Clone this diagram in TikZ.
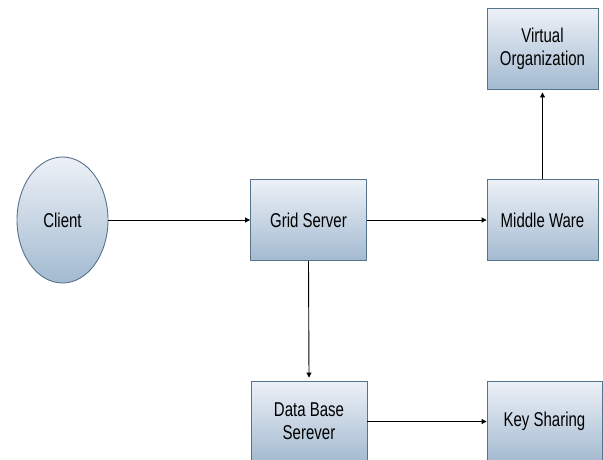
\documentclass[tikz,border=0pt]{standalone}
\usepackage{fontspec}
\setmainfont{Liberation Sans}[FakeStretch=0.75]
\usetikzlibrary{shapes.geometric,arrows.meta}
\definecolor{boxtop}{HTML}{EDF1F7}
\definecolor{boxbot}{HTML}{A3BAD0}
\definecolor{boxline}{HTML}{56738C}
\tikzset{
  blk/.style={draw=boxline, line width=0.9pt, top color=boxtop, bottom color=boxbot,
    minimum width=116pt, minimum height=81pt, inner sep=0pt, align=center,
    font=\fontsize{20}{23}\selectfont},
  oval/.style={ellipse, draw=boxline, line width=0.9pt, top color=boxtop, bottom color=boxbot,
    minimum width=91pt, minimum height=126pt, inner sep=0pt,
    font=\fontsize{20}{23}\selectfont},
  conn/.style={draw=black, line width=0.9pt, -{Triangle[length=5pt,width=5pt]}}
}
\begin{document}
\begin{tikzpicture}[x=1pt,y=-1pt]
\useasboundingbox (0,0) rectangle (603,459);
\clip (0,0) rectangle (603,459);
\node[oval] (client) at (62.5,220) {Client};
\node[blk] (grid) at (308.5,220) {Grid Server};
\node[blk, minimum width=111pt] (mw) at (542.5,220) {Middle Ware};
\node[blk, minimum width=111pt] (vo) at (542.5,48.5) {Virtual\\Organization};
\node[blk] (db) at (309,421.5) {Data Base\\Serever};
\node[blk, minimum width=115pt] (ks) at (544.5,421.5) {Key Sharing};
\draw[conn] (client.east) -- (grid.west);
\draw[conn] (grid.east) -- (mw.west);
\draw[conn] (mw.north) -- ([yshift=-3pt]vo.south);
\draw[conn] (grid.south) -- ([yshift=3pt]db.north);
\draw[conn] (db.east) -- (ks.west);
\end{tikzpicture}
\end{document}
